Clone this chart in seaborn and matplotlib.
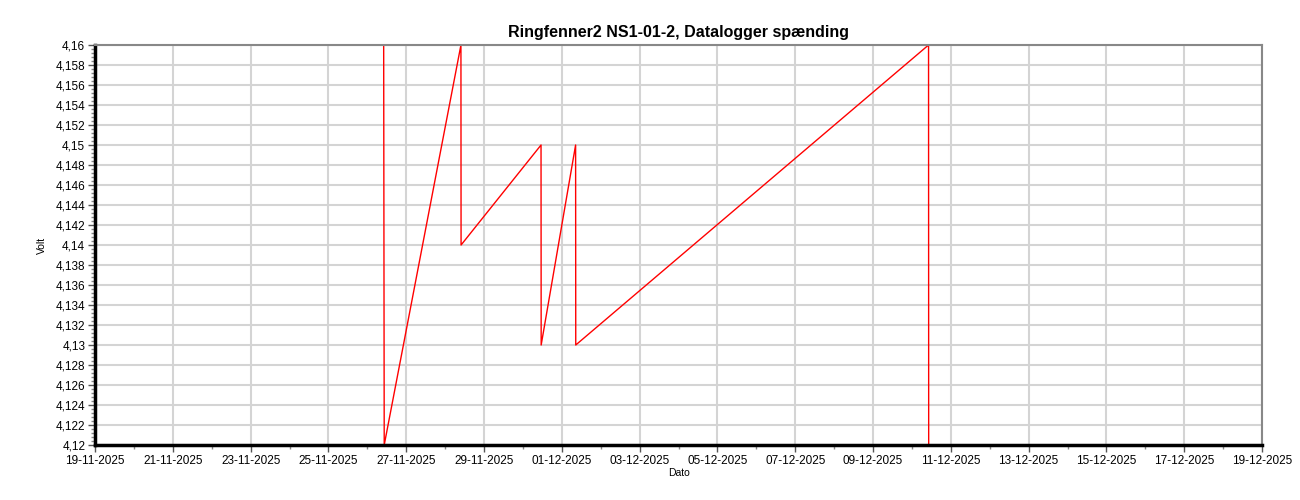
import pandas as pd
import matplotlib
matplotlib.use('Agg')
import matplotlib.pyplot as plt
import matplotlib.dates as mdates
import matplotlib.ticker as mticker
import seaborn as sns

# Logger readings
timestamps = [
    "2025-11-26 10:05", "2025-11-26 10:25",
    "2025-11-28 09:45", "2025-11-28 09:50",
    "2025-11-30 11:10", "2025-11-30 11:15",
    "2025-12-01 08:30", "2025-12-01 08:35",
    "2025-12-10 10:15", "2025-12-10 10:20",
]
volts = [4.16, 4.12, 4.16, 4.14, 4.15, 4.13, 4.15, 4.13, 4.16, 4.12]

title = "Ringfenner2 NS1-01-2, Datalogger spænding"
x_start, x_end = "2025-11-19", "2025-12-19"
y_min, y_max = 4.12, 4.16

df = pd.DataFrame({"Dato": pd.to_datetime(timestamps), "Volt": volts})

sns.set_theme(style="white")
plt.rcParams['font.family'] = ['Liberation Sans', 'DejaVu Sans']

fig = plt.figure(figsize=(13, 5), dpi=100)
ax = fig.add_axes([0.0731, 0.11, 0.8977, 0.80])

sns.lineplot(data=df, x="Dato", y="Volt", sort=False, color="#ff0000",
             linewidth=1.0, ax=ax, estimator=None)

ax.set_xlim(pd.Timestamp(x_start), pd.Timestamp(x_end))
ax.set_ylim(y_min, y_max)

# odd days of the month, so 29-11 is followed by 01-12
ax.xaxis.set_major_locator(mdates.DayLocator(bymonthday=range(1, 32, 2)))
ax.xaxis.set_minor_locator(mdates.DayLocator())
ax.xaxis.set_major_formatter(mdates.DateFormatter("%d-%m-%Y"))

ax.yaxis.set_major_locator(mticker.MultipleLocator(0.002))
ax.yaxis.set_minor_locator(mticker.MultipleLocator(0.0004))
ax.yaxis.set_major_formatter(mticker.FuncFormatter(
    lambda v, p: f"{v:.3f}".rstrip('0').rstrip('.').replace('.', ',')))

ax.grid(True, which='major', color='#d4d4d4', linewidth=1.5)
ax.set_axisbelow(True)

ax.tick_params(axis='both', which='major', direction='out', length=5,
               width=1, color='#555555', labelsize=8.5, labelcolor='black',
               pad=2, left=True, bottom=True)
ax.tick_params(axis='both', which='minor', direction='out', length=3,
               width=1, color='#888888', left=True, bottom=True)

ax.spines['left'].set_color('black')
ax.spines['left'].set_linewidth(2.5)
ax.spines['bottom'].set_color('black')
ax.spines['bottom'].set_linewidth(2.5)
ax.spines['top'].set_color('#888888')
ax.spines['top'].set_linewidth(1.5)
ax.spines['right'].set_color('#888888')
ax.spines['right'].set_linewidth(1.5)

ax.set_title(title, fontsize=11.5, fontweight='bold', color='black', pad=6)
ax.set_xlabel("Dato", fontsize=7.5, color='black', labelpad=1)
ax.set_ylabel("Volt", fontsize=7.5, color='black', labelpad=6)

fig.savefig("out.png", dpi=100)
plt.close(fig)
